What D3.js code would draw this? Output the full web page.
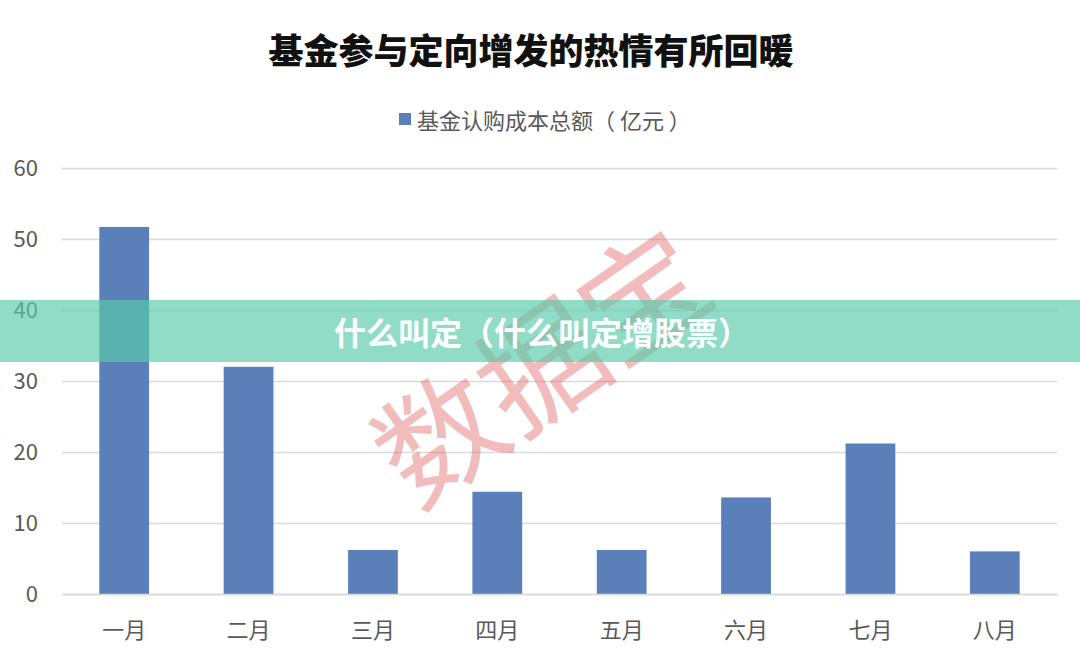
<!DOCTYPE html>
<html><head><meta charset="utf-8">
<script src="https://cdn.jsdelivr.net/npm/d3@7"></script>
<style>
body{margin:0;background:#fff;}
svg{display:block;}
</style></head>
<body>
<svg id="chart" width="1080" height="662"></svg>
<script>
const categories = ["一月","二月","三月","四月","五月","六月","七月","八月"];
const values = [51.7, 32.0, 6.2, 14.4, 6.2, 13.6, 21.2, 6.0];
const yTicks = [0,10,20,30,40,50,60];
const title = "基金参与定向增发的热情有所回暖";
const legendLabel = "基金认购成本总额（ 亿元 ）";
const bannerText = "什么叫定（什么叫定增股票）";
const watermark = "数据宝";

const svg = d3.select("#chart");
const font = "'Noto Sans CJK SC', 'Noto Sans', sans-serif";
const m = {left:62, right:1057, top:168, bottom:594};

const x = d3.scaleBand().domain(categories).range([m.left, m.right]).paddingInner(0.6).paddingOuter(0.3);
const y = d3.scaleLinear().domain([0,60]).range([m.bottom, m.top]);

// title
svg.append("text").attr("x",531).attr("y",48).attr("text-anchor","middle").attr("dominant-baseline","central")
  .style("font-family",font).style("font-weight",900).style("font-size","35px").attr("fill","#111").text(title);

// legend
svg.append("rect").attr("x",399).attr("y",113).attr("width",12).attr("height",12).attr("fill","#5b7fb8");
svg.append("text").attr("x",417).attr("y",119).attr("dominant-baseline","central")
  .style("font-family",font).style("font-size","22px").attr("fill","#595959").text(legendLabel);

// grid
const yAxis = d3.axisLeft(y).tickValues(yTicks).tickSize(-(m.right-m.left)).tickPadding(24);
const gy = svg.append("g").attr("transform",`translate(${m.left},0)`).call(yAxis);
gy.select(".domain").remove();
gy.selectAll(".tick line").attr("stroke","#d9d9d9").attr("stroke-width",1.5);
gy.selectAll(".tick text").style("font-family",font).style("font-size","22px").attr("fill","#595959");

// bars
svg.append("g").selectAll("rect").data(values).join("rect")
  .attr("x",(d,i)=>x(categories[i])).attr("width",x.bandwidth())
  .attr("y",d=>y(d)).attr("height",d=>y(0)-y(d)).attr("fill","#5b7fb8");

// x axis
const xAxis = d3.axisBottom(x).tickSize(0).tickPadding(28);
const gx = svg.append("g").attr("transform",`translate(0,${m.bottom})`).call(xAxis);
gx.select(".domain").attr("stroke","#d9d9d9").attr("stroke-width",1.5);
gx.selectAll(".tick text").style("font-family",font).style("font-size","22px").attr("fill","#595959");

// watermark
svg.append("text").attr("transform","translate(537,360) rotate(-35)").attr("text-anchor","middle").attr("dominant-baseline","central")
  .style("font-family",font).style("font-weight",400).style("font-size","124px").attr("fill","rgba(225,95,95,0.42)").text(watermark);

// banner
svg.append("rect").attr("x",0).attr("y",300).attr("width",1080).attr("height",62).attr("fill","rgba(89,203,170,0.67)");
svg.append("text").attr("x",542).attr("y",331).attr("text-anchor","middle").attr("dominant-baseline","central")
  .style("font-family",font).style("font-weight",700).style("font-size","32px").attr("fill","#fff").text(bannerText);
</script>
</body></html>
